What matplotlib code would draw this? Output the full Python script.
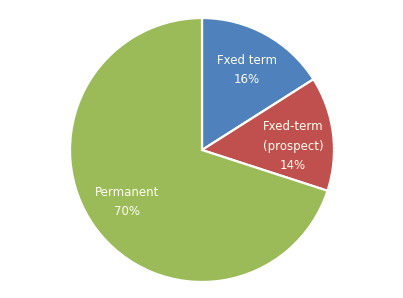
import matplotlib
matplotlib.use("Agg")
import matplotlib.pyplot as plt
import numpy as np

labels = ["Fxed term", "Fxed-term\n(prospect)", "Permanent"]
shares = [16, 14, 70]
colors = ["#4F81BD", "#C0504D", "#9BBB59"]

# label placement (angle in deg, radius fraction) roughly as in the original
label_pos = [(60.7, 0.695), (2.5, 0.69), (-145.3, 0.69)]

W, H = 403, 298
fig = plt.figure(figsize=(W / 100, H / 100), dpi=100)
cx, cy, R = 202, 150, 132
ax = fig.add_axes([(cx - R) / W, (H - cy - R) / H, 2 * R / W, 2 * R / H])

ax.pie(shares, colors=colors, startangle=90, counterclock=False,
       radius=1.0, wedgeprops=dict(edgecolor="white", linewidth=1.6))
ax.set_xlim(-1, 1)
ax.set_ylim(-1, 1)
ax.set_aspect("equal")
ax.axis("off")

for lab, val, (ang, r) in zip(labels, shares, label_pos):
    a = np.deg2rad(ang)
    ax.text(r * np.cos(a), r * np.sin(a), f"{lab}\n{val}%",
            ha="center", va="center", color="#FFFFF0", fontsize=8.5,
            linespacing=1.65, family="DejaVu Sans")

fig.savefig("out.png", dpi=100)
